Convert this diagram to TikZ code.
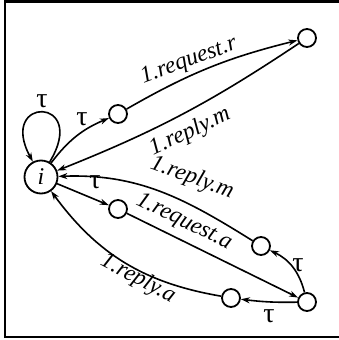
\documentclass[tikz,border=0pt]{standalone}
\usepackage{fontspec}
\setmainfont{Liberation Serif}
\usetikzlibrary{arrows.meta}
\begin{document}
\begin{tikzpicture}[x=1pt,y=1pt,
  state/.style={circle,draw,line width=1.8pt,minimum size=18pt,inner sep=0pt},
  init/.style={circle,draw,line width=1.8pt,minimum size=33pt,inner sep=0pt,font=\fontsize{24}{28}\selectfont\itshape},
  lab/.style={font=\fontsize{23.5}{28}\selectfont\itshape,inner sep=0pt},
  tau/.style={font=\fontsize{28}{32}\selectfont,inner sep=0pt},
  arr/.style={line width=1.6pt,-{Stealth[length=9pt,width=6pt,inset=2.8pt]}}]
\useasboundingbox (0,0) rectangle (339,340);
\draw[line width=2.2pt] (345,338.5) -- (5,338.5) -- (5,3) -- (345,3);
\node[init] (i) at (41,163) {i};
\node[state] (a) at (118,226) {};
\node[state] (b) at (307,302) {};
\node[state] (c) at (118,131) {};
\node[state] (d) at (261,94) {};
\node[state] (e) at (307,38) {};
\node[state] (f) at (231,42) {};
% edges
\draw[arr] (i.60) .. controls +(40,66) and +(-36,66) .. (i.118);
\draw[arr] (i) to[bend left=15] (a);
\draw[arr] (a) to[bend left=8] (b);
\draw[arr] (b) to[bend left=6] (i);
\draw[arr] (d) to[out=148,in=2] (i);
\draw[arr] (i) -- (c);
\draw[arr] (c) -- (e);
\draw[arr] (e) to[bend right=25] (d);
\draw[arr] (e) to[bend left=4] (f);
\draw[arr] (f) to[bend left=22] (i);
% labels
\node[tau] (t1) at (42,239) {τ};
\node[tau] (t2) at (82,221) {τ};
\node[tau] (t3) at (95,158) {τ};
\node[tau] (t4) at (298,75) {τ};
\node[tau] (t5) at (269,24) {τ};
\node[lab,rotate=20] (l1) at (189,279) {1.request.r};
\node[lab,rotate=25] (l2) at (190,208) {1.reply.m};
\node[lab,rotate=-20] (l3) at (192,162) {1.reply.m};
\node[lab,rotate=-26] (l4) at (184,118) {1.request.a};
\node[lab,rotate=-28] (l5) at (138,61) {1.reply.a};
\end{tikzpicture}
\end{document}
